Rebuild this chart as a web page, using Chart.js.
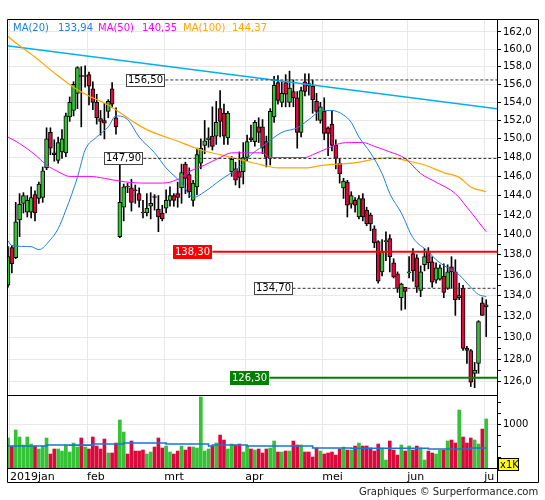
<!DOCTYPE html>
<html>
<head>
<meta charset="utf-8">
<script src="https://cdn.jsdelivr.net/npm/chart.js@4.4.1/dist/chart.umd.min.js"></script>
<style>
  html, body { margin: 0; padding: 0; background: #fff; }
  #wrap { width: 545px; height: 500px; position: relative; }
</style>
</head>
<body>
<div id="wrap"><canvas id="chart"></canvas></div>
<script>
// Daily candles, jan - jul 2019 (trading day index 0..124)
const opens  = [135.0,138.7,137.7,141.5,143.2,142.3,142.3,144.1,143.7,143.8,146.9,150.7,148.5,147.7,148.6,148.5,152.4,153.1,155.0,157.0,
                156.9,157.1,155.5,154.0,152.2,152.0,153.0,155.5,152.3,139.8,142.8,145.0,144.8,144.6,144.2,142.3,142.2,142.9,143.9,142.6,
                142.2,142.7,143.5,144.0,144.2,144.8,147.3,146.2,143.5,144.9,147.4,149.3,149.9,150.3,150.3,153.3,152.8,150.1,146.5,146.8,
                146.5,146.5,148.0,150.1,149.7,151.3,151.3,149.7,147.9,152.4,156.2,154.0,156.2,154.0,155.2,154.5,150.7,156.3,156.1,155.8,
                154.1,152.0,153.0,151.2,151.6,149.3,147.4,144.8,145.4,143.1,143.5,141.8,143.7,142.5,142.0,140.6,139.3,136.3,139.3,139.6,
                137.2,136.1,133.8,134.8,136.2,138.1,137.7,134.5,137.0,138.3,137.3,135.5,135.6,135.9,134.7,136.8,136.3,133.8,134.7,129.0,
                128.8,126.7,127.6,133.3,132.9];
const highs  = [138.8,138.9,143.3,144.2,144.3,144.0,144.9,144.5,145.4,147.0,151.2,151.2,149.9,150.2,151.0,152.8,154.6,156.3,158.0,158.0,
                158.1,157.4,156.3,154.9,153.1,153.9,154.3,156.2,153.4,147.9,145.2,145.3,145.7,145.1,144.8,143.5,144.2,144.3,144.1,144.0,
                143.0,144.6,144.9,144.2,145.4,147.3,147.5,146.9,145.6,149.0,150.0,152.0,151.2,153.5,154.1,155.3,153.8,153.0,148.1,147.5,
                148.6,149.6,150.4,151.5,152.0,152.3,152.1,150.3,153.3,156.9,157.0,156.3,157.1,157.5,156.5,155.2,155.7,157.2,157.2,156.5,
                155.0,154.0,154.5,151.3,153.0,149.9,147.9,145.8,145.6,144.4,143.8,144.0,144.2,142.8,142.2,140.9,139.4,139.5,140.3,140.0,
                137.6,136.3,135.2,134.8,137.8,138.6,138.0,136.9,138.6,138.7,137.8,137.2,137.0,137.1,137.0,137.8,137.5,135.2,135.0,129.2,
                128.9,127.7,131.6,133.8,133.6];
const lows   = [134.8,136.2,137.6,139.8,142.2,141.8,141.7,141.4,143.2,143.3,146.7,148.3,147.6,147.4,147.9,148.1,151.9,152.5,153.3,151.3,
                155.7,153.7,153.2,151.6,150.4,150.0,152.3,153.4,150.5,139.7,141.4,144.3,142.4,143.2,142.8,141.7,141.9,141.6,142.5,140.3,
                141.4,142.2,142.9,142.9,142.8,143.2,144.2,143.8,142.9,144.1,146.8,148.4,149.1,148.8,149.4,150.2,149.4,149.4,146.0,145.1,
                144.8,145.2,147.6,149.7,149.2,149.6,148.4,147.0,147.2,151.8,153.8,153.5,153.5,153.5,153.5,149.0,150.2,154.7,154.8,152.8,
                152.0,151.7,149.9,148.2,148.7,146.8,145.3,143.7,141.8,142.7,142.3,141.6,141.4,140.9,140.4,138.7,135.2,135.9,137.4,136.3,
                135.7,134.3,132.6,132.7,135.7,135.4,134.3,133.9,136.4,136.6,134.8,135.2,135.5,133.8,134.6,134.7,132.1,133.6,128.8,127.6,
                125.5,125.4,126.7,132.1,130.1];
const closes = [137.8,137.1,141.3,143.1,144.0,143.5,143.8,142.2,145.2,146.6,150.0,149.0,148.3,149.6,150.0,152.5,154.0,156.0,157.9,156.9,
                157.0,155.8,154.0,152.3,151.9,151.7,154.1,153.8,151.3,143.3,144.9,144.9,143.3,144.5,143.5,142.2,142.7,143.2,143.8,141.8,
                141.6,143.5,144.0,143.5,143.8,146.4,145.8,144.4,145.3,148.3,149.0,149.8,150.1,149.2,151.8,151.9,150.3,152.8,147.8,145.6,
                145.9,148.0,149.7,149.9,151.8,150.7,149.0,148.0,153.0,155.9,154.2,155.0,154.9,155.6,154.5,150.7,155.3,155.2,155.8,154.3,
                153.0,153.5,150.6,150.6,149.3,147.9,146.3,145.5,143.0,144.0,143.0,143.7,141.8,141.1,141.1,139.2,135.4,138.3,139.4,137.8,
                135.8,134.7,135.1,134.4,136.3,136.4,134.8,136.3,137.8,137.2,135.3,136.7,136.7,134.3,136.3,136.3,133.6,134.0,129.0,128.8,
                125.9,127.0,131.5,132.1,133.1];
// volume in thousands of shares (x1K)
const volumes = [682,500,864,705,523,705,545,500,432,500,682,318,432,432,386,523,364,568,477,682,
                 477,432,705,500,432,659,341,341,568,1091,818,318,614,386,386,409,318,364,477,682,
                 455,500,364,318,386,500,409,477,477,455,1614,386,432,500,568,750,636,432,545,523,
                 545,364,500,432,409,432,341,432,455,614,364,364,386,386,614,523,523,364,364,250,
                 455,386,318,341,364,295,432,477,409,409,500,568,500,500,455,386,545,455,182,614,
                 409,295,523,386,500,409,500,455,182,386,341,318,409,409,614,636,568,1318,705,568,
                 682,636,545,886,1114];

// moving averages (trading day index, price)
const ma20Idx = [0,1,6,8,11,13,15,18,20,23,26,28,31,34,38,41,45,48,51,55,60,63,66,71,75,78,81,84,87,89,91,94,97,99,102,105,109,111,114,117,120,122,124];
const ma20Val = [139.4,138.9,138.8,138.5,139.5,140.6,142.5,145.9,148.8,150.2,151.3,152.5,152.1,150.2,148.5,146.9,145.3,143.8,144.4,145.6,147.0,148.3,149.2,150.7,151.2,152.1,153.0,153.1,152.6,151.8,150.2,148.5,146.3,144.2,142.2,139.7,138.3,137.5,136.7,136.0,134.8,134.1,133.9];
const ma50Idx = [0,3,7,10,13,16,21,25,29,35,40,42,45,47,51,55,58,66,68,77,79,83,86,89,92,95,99,103,107,111,116,119,122,124];
const ma50Val = [150.2,149.5,148.3,147.2,146.5,146.0,146.0,145.8,145.5,145.3,145.3,145.4,145.9,146.5,147.2,148.0,148.5,148.5,148.0,148.0,148.3,149.0,149.5,149.6,149.6,149.2,148.6,147.9,146.3,145.4,144.2,142.8,141.3,140.3];
const ma100Idx = [0,1,7,12,18,22,26,32,36,45,50,55,61,66,70,77,82,89,99,103,108,113,117,120,124];
const ma100Val = [161.5,161.1,159.1,157.3,155.4,154.5,153.7,152.0,151.0,149.6,148.8,148.3,147.7,147.2,146.9,146.9,147.2,147.4,148.0,147.7,147.2,146.4,145.9,144.9,144.4];
const maLast = ['133,94', '140,35', '144,37'];

// volume average (step line)
const vmaIdx = [0,10,10,16,16,22,22,30,30,41,41,52,52,53,53,62,62,79,79,89,89,109,109,120,120,124];
const vmaVal = [500,500,523,523,520,520,545,545,568,568,545,545,500,500,523,523,500,500,455,455,448,448,432,432,455,455];

// trend line (start / end)
const trendIdx = [-0.26, 126.8];
const trendVal = [160.4, 153.3];

// horizontal levels and the day they start from
const levels    = [156.50, 147.90, 138.30, 134.70, 126.30];
const levelFrom = [40.8, 35.1, 53.0, 73.8, 67.8];
const levelKind = ['dash', 'dash', 'red', 'dash', 'green'];

// axis ticks
const monthPos    = [0.5, 20.5, 40.5, 61.5, 81.5, 103.5, 123.5];
const monthLabels = ['2019jan', 'feb', 'mrt', 'apr', 'mei', 'jun', 'ju'];
const priceTicks  = [126,127,128,129,130,131,132,133,134,135,136,137,138,139,140,142,144,146,148,150,152,154,156,158,160,162];
const volTicks    = [250, 500, 750, 1000, 1250, 1500];

const UP = '#36c236', DOWN = '#dc0a3c';
const FONT = 'DejaVu Sans';
Chart.defaults.font.family = FONT;

const xMin = -0.26, xMax = 126.8;
const up = i => closes[i] >= opens[i];
const pts = (xs, ys) => xs.map((x, i) => ({ x: x, y: ys[i] }));

const lineDs = (data, color, width, extra) => Object.assign({
    type: 'line', data, yAxisID: 'y', borderColor: color, borderWidth: width,
    pointRadius: 0, fill: false, order: 1
}, extra || {});

const levelDatasets = levels.map((v, k) => {
    const kind = levelKind[k];
    const color = kind === 'red' ? '#ff0000' : kind === 'green' ? '#008000' : '#333333';
    return lineDs([{ x: levelFrom[k], y: v }, { x: xMax, y: v }], color, kind === 'dash' ? 1 : 2,
        { borderDash: kind === 'dash' ? [3, 2] : [], order: 0 });
});

const overlay = {
    id: 'overlay',
    afterDatasetsDraw(chart) {
        const ctx = chart.ctx, xs = chart.scales.x, ys = chart.scales.y;
        ctx.save();
        ctx.font = '10px ' + FONT;
        ctx.textBaseline = 'middle';
        levels.forEach((v, k) => {
            const kind = levelKind[k];
            const txt = v.toFixed(2).replace('.', ',');
            const w = Math.round(ctx.measureText(txt).width) + 4;
            const right = Math.round(xs.getPixelForValue(levelFrom[k]));
            const y = Math.round(ys.getPixelForValue(v));
            const left = right - w;
            if (kind === 'dash') {
                ctx.fillStyle = '#fff';
                ctx.fillRect(left, y - 6, w, 12);
                ctx.strokeStyle = '#444';
                ctx.lineWidth = 1;
                ctx.strokeRect(left + 0.5, y - 5.5, w - 1, 12);
                ctx.fillStyle = '#000';
            } else {
                ctx.fillStyle = kind === 'red' ? '#ff0000' : '#008000';
                ctx.fillRect(left, y - 7, w, 14);
                ctx.fillStyle = '#fff';
            }
            ctx.fillText(txt, left + 2, y + 0.5);
        });
        ctx.restore();
    },
    afterDraw(chart) {
        const ctx = chart.ctx, a = chart.chartArea;
        const yb = Math.round(chart.scales.y.bottom) + 0.5;
        ctx.save();
        ctx.strokeStyle = '#000';
        ctx.lineWidth = 1;
        ctx.beginPath();
        // outer frame
        ctx.rect(a.left + 0.5, a.top + 0.5, 538 - a.left, 482 - a.top);
        // panel separator
        ctx.moveTo(a.left, yb); ctx.lineTo(a.right, yb);
        // axis line down through the date row
        ctx.moveTo(a.right + 0.5, a.bottom); ctx.lineTo(a.right + 0.5, 482);
        ctx.stroke();

        // x1K box
        ctx.fillStyle = '#ffff00';
        ctx.fillRect(a.right + 1, 458, 21, 13);
        ctx.strokeRect(a.right + 1.5, 458.5, 20, 12);
        ctx.fillStyle = '#000';
        ctx.font = '10px ' + FONT;
        ctx.textBaseline = 'middle';
        ctx.fillText('x1K', a.right + 3, 465);

        // moving average legend
        ctx.textBaseline = 'alphabetic';
        const items = [
            ['MA(20)', 13, '#1e7fdc'], [maLast[0], 58, '#1e7fdc'],
            ['MA(50)', 98, '#ff00ff'], [maLast[1], 142, '#ff00ff'],
            ['MA(100)', 183, '#ffa500'], [maLast[2], 232, '#ffa500']
        ];
        items.forEach(([t, x, c]) => { ctx.fillStyle = c; ctx.fillText(t, x, 31); });

        // credit
        ctx.fillStyle = '#222';
        ctx.fillText('Graphiques \u00a9 Surperformance.com', 359, 495);
        ctx.restore();
    }
};

new Chart(document.getElementById('chart'), {
    type: 'bar',
    data: {
        datasets: [
            lineDs(pts(ma20Idx, ma20Val), '#1e7fdc', 1, { cubicInterpolationMode: 'monotone' }),
            lineDs(pts(ma50Idx, ma50Val), '#ff00ff', 1, { cubicInterpolationMode: 'monotone' }),
            lineDs(pts(ma100Idx, ma100Val), '#ffa500', 1.2, { cubicInterpolationMode: 'monotone' }),
            lineDs(pts(trendIdx, trendVal), '#00b0f0', 1.5),
            ...levelDatasets,
            lineDs(pts(vmaIdx, vmaVal), '#1478d4', 1.6, { yAxisID: 'yv' }),
            {
                type: 'bar', yAxisID: 'y', order: 4, grouped: false,
                data: opens.map((o, i) => ({ x: i, y: [o, closes[i]] })),
                backgroundColor: opens.map((o, i) => up(i) ? UP : DOWN),
                borderColor: '#000', borderWidth: 1, borderSkipped: false, barThickness: 4
            },
            {
                type: 'bar', yAxisID: 'y', order: 5, grouped: false,
                data: highs.map((h, i) => ({ x: i, y: [lows[i], h] })),
                backgroundColor: '#000', barThickness: 1
            },
            {
                type: 'bar', yAxisID: 'yv', order: 6, grouped: false,
                data: volumes.map((v, i) => ({ x: i, y: v })),
                backgroundColor: volumes.map((v, i) => up(i) ? UP : DOWN),
                barThickness: 3
            }
        ]
    },
    options: {
        responsive: true,
        maintainAspectRatio: false,
        animation: false,
        events: [],
        layout: { padding: { left: 7, top: 19, right: 0, bottom: 0 } },
        plugins: { legend: { display: false }, tooltip: { enabled: false } },
        scales: {
            x: {
                type: 'linear', min: xMin, max: xMax, offset: false,
                afterBuildTicks: s => { s.ticks = monthPos.map(v => ({ value: v })); },
                afterFit: s => { s.height = 32; },
                ticks: {
                    autoSkip: false, maxRotation: 0, align: 'start', padding: 3,
                    color: '#000', font: { size: 11 },
                    callback: (v, i) => monthLabels[i]
                },
                grid: { color: '#e8e8e8', drawTicks: false, offset: false },
                border: { color: '#000' }
            },
            y: {
                type: 'logarithmic', position: 'right', stack: 'panels', stackWeight: 376,
                min: 124.74, max: 163.52,
                afterBuildTicks: s => { s.ticks = priceTicks.map(v => ({ value: v })); },
                afterFit: s => { s.width = 48; },
                ticks: {
                    autoSkip: false, padding: 2, color: '#000', font: { size: 10 },
                    callback: v => (v % 2 === 0 ? v.toFixed(1).replace('.', ',') : '')
                },
                grid: {
                    color: c => (c.tick && c.tick.value % 2 === 0 ? '#e8e8e8' : 'rgba(0,0,0,0)'),
                    tickColor: '#000', tickLength: 4
                },
                border: { color: '#000' }
            },
            yv: {
                type: 'linear', position: 'right', stack: 'panels', stackWeight: 73,
                min: 0, max: 1660,
                afterBuildTicks: s => { s.ticks = volTicks.map(v => ({ value: v })); },
                afterFit: s => { s.width = 48; },
                ticks: {
                    autoSkip: false, padding: 2, color: '#000', font: { size: 10 },
                    callback: v => (v === 1000 ? '1000' : '')
                },
                grid: {
                    color: c => (c.tick && c.tick.value === 1000 ? '#e8e8e8' : 'rgba(0,0,0,0)'),
                    tickColor: '#000', tickLength: 4
                },
                border: { color: '#000' }
            }
        }
    },
    plugins: [overlay]
});
</script>
</body>
</html>
